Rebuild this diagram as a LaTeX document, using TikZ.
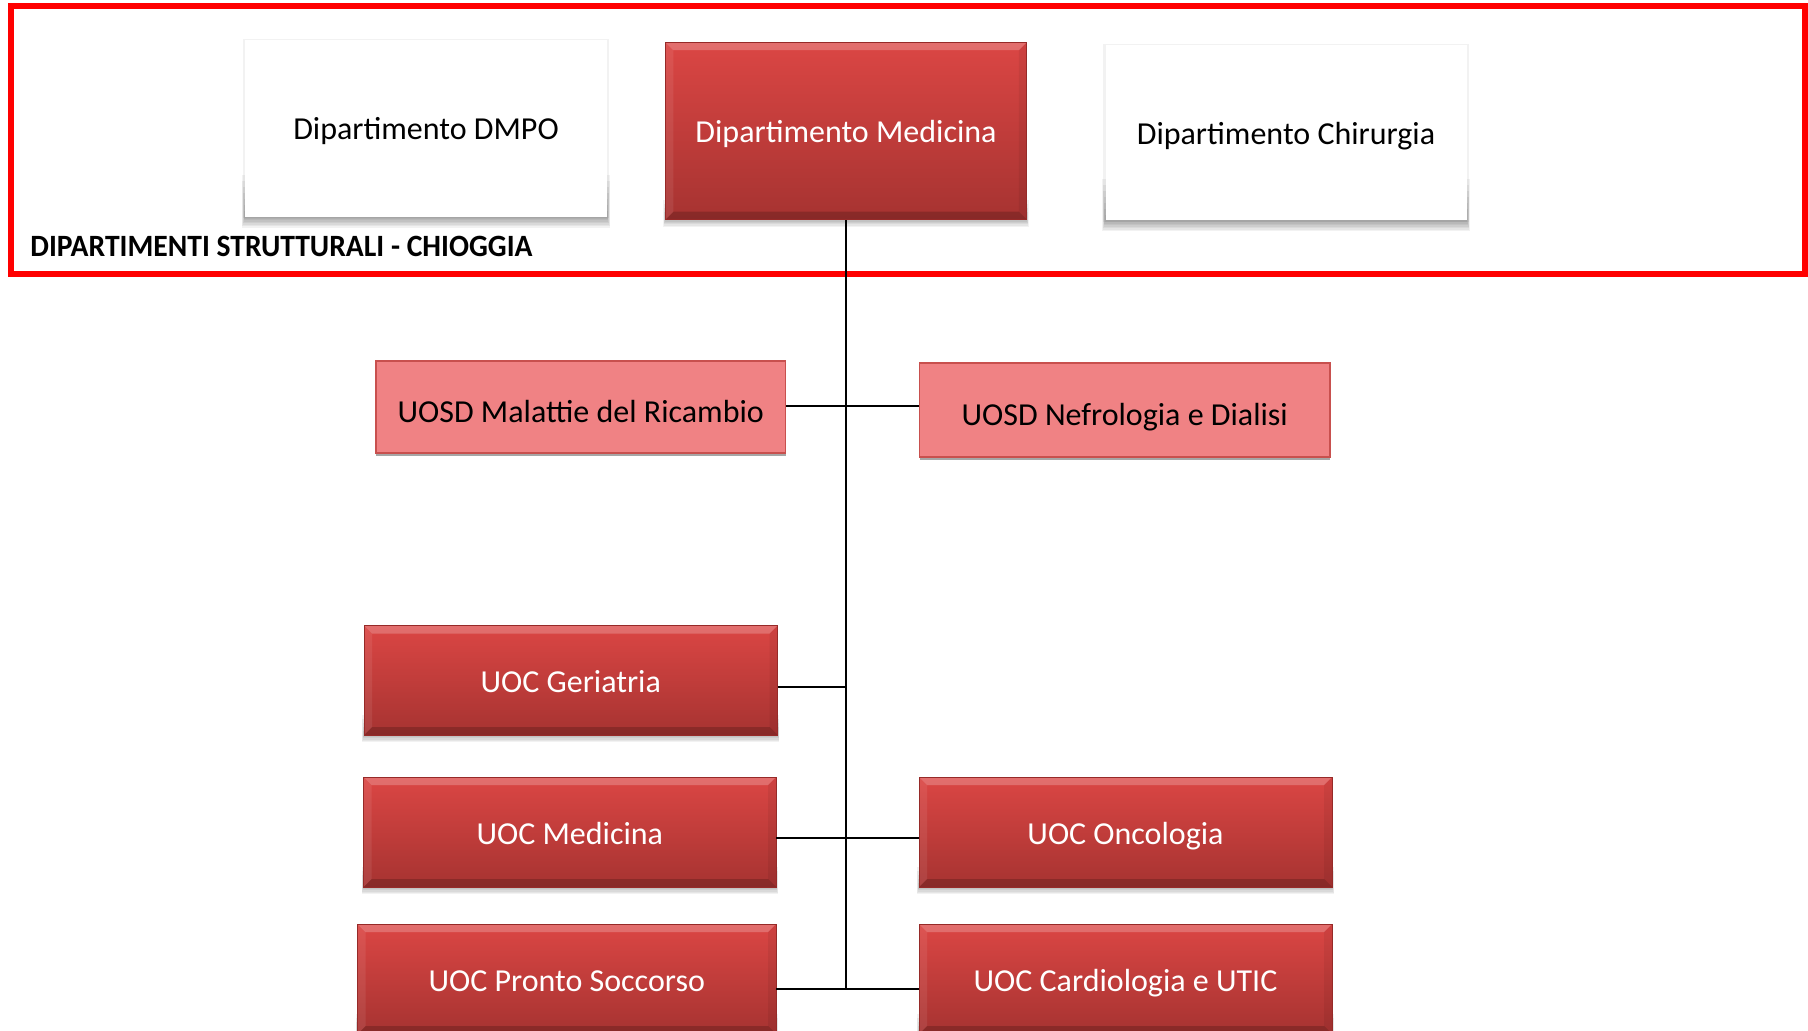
\documentclass[tikz,border=0pt]{standalone}
\usepackage{fontspec}
\setmainfont{Carlito}
\newfontfamily\lblfont[FakeStretch=0.955]{Carlito}
\usetikzlibrary{shadows}
\pgfdeclarelayer{bg}
\pgfsetlayers{bg,main}
\definecolor{redtop}{RGB}{219,70,68}
\definecolor{redbot}{RGB}{166,51,49}
\definecolor{redline}{RGB}{150,42,40}
\definecolor{pinkfill}{RGB}{240,130,132}
\definecolor{pinkline}{RGB}{200,80,78}
\definecolor{frame}{RGB}{255,0,0}
\tikzset{
  boxtext/.style={font=\fontsize{16}{19}\selectfont, inner sep=0pt, align=center,
    text height=14.8pt, text depth=2.8pt},
  redbox/.style={boxtext, text=white, top color=redtop, bottom color=redbot,
    draw=redline, line width=0.4pt,
    path picture={
      \fill[white,opacity=0.22] (path picture bounding box.north west) -- (path picture bounding box.north east)
        -- ([shift={(-4pt,-4pt)}]path picture bounding box.north east) -- ([shift={(4pt,-4pt)}]path picture bounding box.north west) -- cycle;
      \fill[black,opacity=0.18] (path picture bounding box.south west) -- (path picture bounding box.south east)
        -- ([shift={(-4pt,4pt)}]path picture bounding box.south east) -- ([shift={(4pt,4pt)}]path picture bounding box.south west) -- cycle;
      \fill[black,opacity=0.06] (path picture bounding box.north east) -- (path picture bounding box.south east)
        -- ([shift={(-4pt,4pt)}]path picture bounding box.south east) -- ([shift={(-4pt,-4pt)}]path picture bounding box.north east) -- cycle;
      \fill[white,opacity=0.08] (path picture bounding box.north west) -- (path picture bounding box.south west)
        -- ([shift={(4pt,4pt)}]path picture bounding box.south west) -- ([shift={(4pt,-4pt)}]path picture bounding box.north west) -- cycle;
    }},
  pinkbox/.style={boxtext, text height=18.3pt, text=black, fill=pinkfill, draw=pinkline, line width=0.6pt,
    drop shadow={shadow xshift=0pt, shadow yshift=-1.6pt, fill=black!35, opacity=1}},
  whitebox/.style={boxtext, text height=14pt, text=black, fill=white},
  softshade/.style={black, opacity=0.05},
  link/.style={line width=1pt, black},
}
\begin{document}
\begin{tikzpicture}[x=0.5pt, y=-0.5pt]
\useasboundingbox (0,0) rectangle (1808,1031);
\begin{pgfonlayer}{bg}
\fill[white] (0,0) rectangle (1808,1031);
\end{pgfonlayer}

% frame
\draw[frame, line width=3pt] (11,6.5) rectangle (1805,274);
\node[anchor=base west, inner sep=0pt, font=\fontsize{15.5}{18}\lblfont\bfseries] (lbl) at (30,257) {DIPARTIMENTI STRUTTURALI - CHIOGGIA};

% top level
\node[whitebox, minimum width=180.75pt, minimum height=88.5pt] (dmpo) at (426,128.5) {Dipartimento DMPO};
\node[redbox, minimum width=180.75pt, minimum height=88.75pt] (dmed) at (846,131) {Dipartimento Medicina};
\node[whitebox, minimum width=180.5pt, minimum height=87.5pt] (dchi) at (1286,133) {Dipartimento Chirurgia};

% UOSD
\node[pinkbox, minimum width=204.75pt, minimum height=46pt] (mal) at (580.75,407) {UOSD Malattie del Ricambio};
\node[pinkbox, minimum width=205.25pt, minimum height=47pt] (nef) at (1124.75,410) {UOSD Nefrologia e Dialisi};

% UOC
\node[redbox, minimum width=206.75pt, minimum height=54.75pt] (ger) at (570.75,680.25) {UOC Geriatria};
\node[redbox, minimum width=206.2pt, minimum height=55pt] (umed) at (569.8,832) {UOC Medicina};
\node[redbox, minimum width=206.5pt, minimum height=55pt] (onc) at (1125.5,832) {UOC Oncologia};
\node[redbox, minimum width=209.25pt, minimum height=55pt] (ps) at (566.75,979) {UOC Pronto Soccorso};
\node[redbox, minimum width=206.5pt, minimum height=55pt] (card) at (1125.5,979) {UOC Cardiologia e UTIC};

% soft shadows
\begin{pgfonlayer}{bg}
\foreach \n in {dmpo,dchi}{
  \fill[black,opacity=0.05] ([shift={(-1pt,-0.5pt)}]\n.south west) rectangle ([shift={(1pt,0.3pt)}]\n.north east);
  \foreach \k in {1,...,7}{
    \fill[softshade] ([shift={(-0.2*\k pt,-0.75*\k pt)}]\n.south west) rectangle ([shift={(0.2*\k pt,3*\k pt)}]\n.south east);
  }}
\foreach \n in {dmed,ger,umed,onc,ps,card}{
  \foreach \k in {1,...,5}{
    \fill[softshade] ([shift={(-0.15*\k pt,-0.7*\k pt)}]\n.south west) rectangle ([shift={(0.15*\k pt,2*\k pt)}]\n.south east);
  }}
\end{pgfonlayer}

% connectors
\coordinate (trunkend) at (dmed.south |- 0,990);
\draw[link] (dmed.south) -- (trunkend);
\draw[link] (mal.east |- 0,406) -- (nef.west |- 0,406);
\draw[link] (ger.east |- 0,687) -- (dmed.south |- 0,687);
\draw[link] (umed.east |- 0,838) -- (onc.west |- 0,838);
\draw[link] (ps.east |- 0,989) -- (card.west |- 0,989);
\end{tikzpicture}
\end{document}
